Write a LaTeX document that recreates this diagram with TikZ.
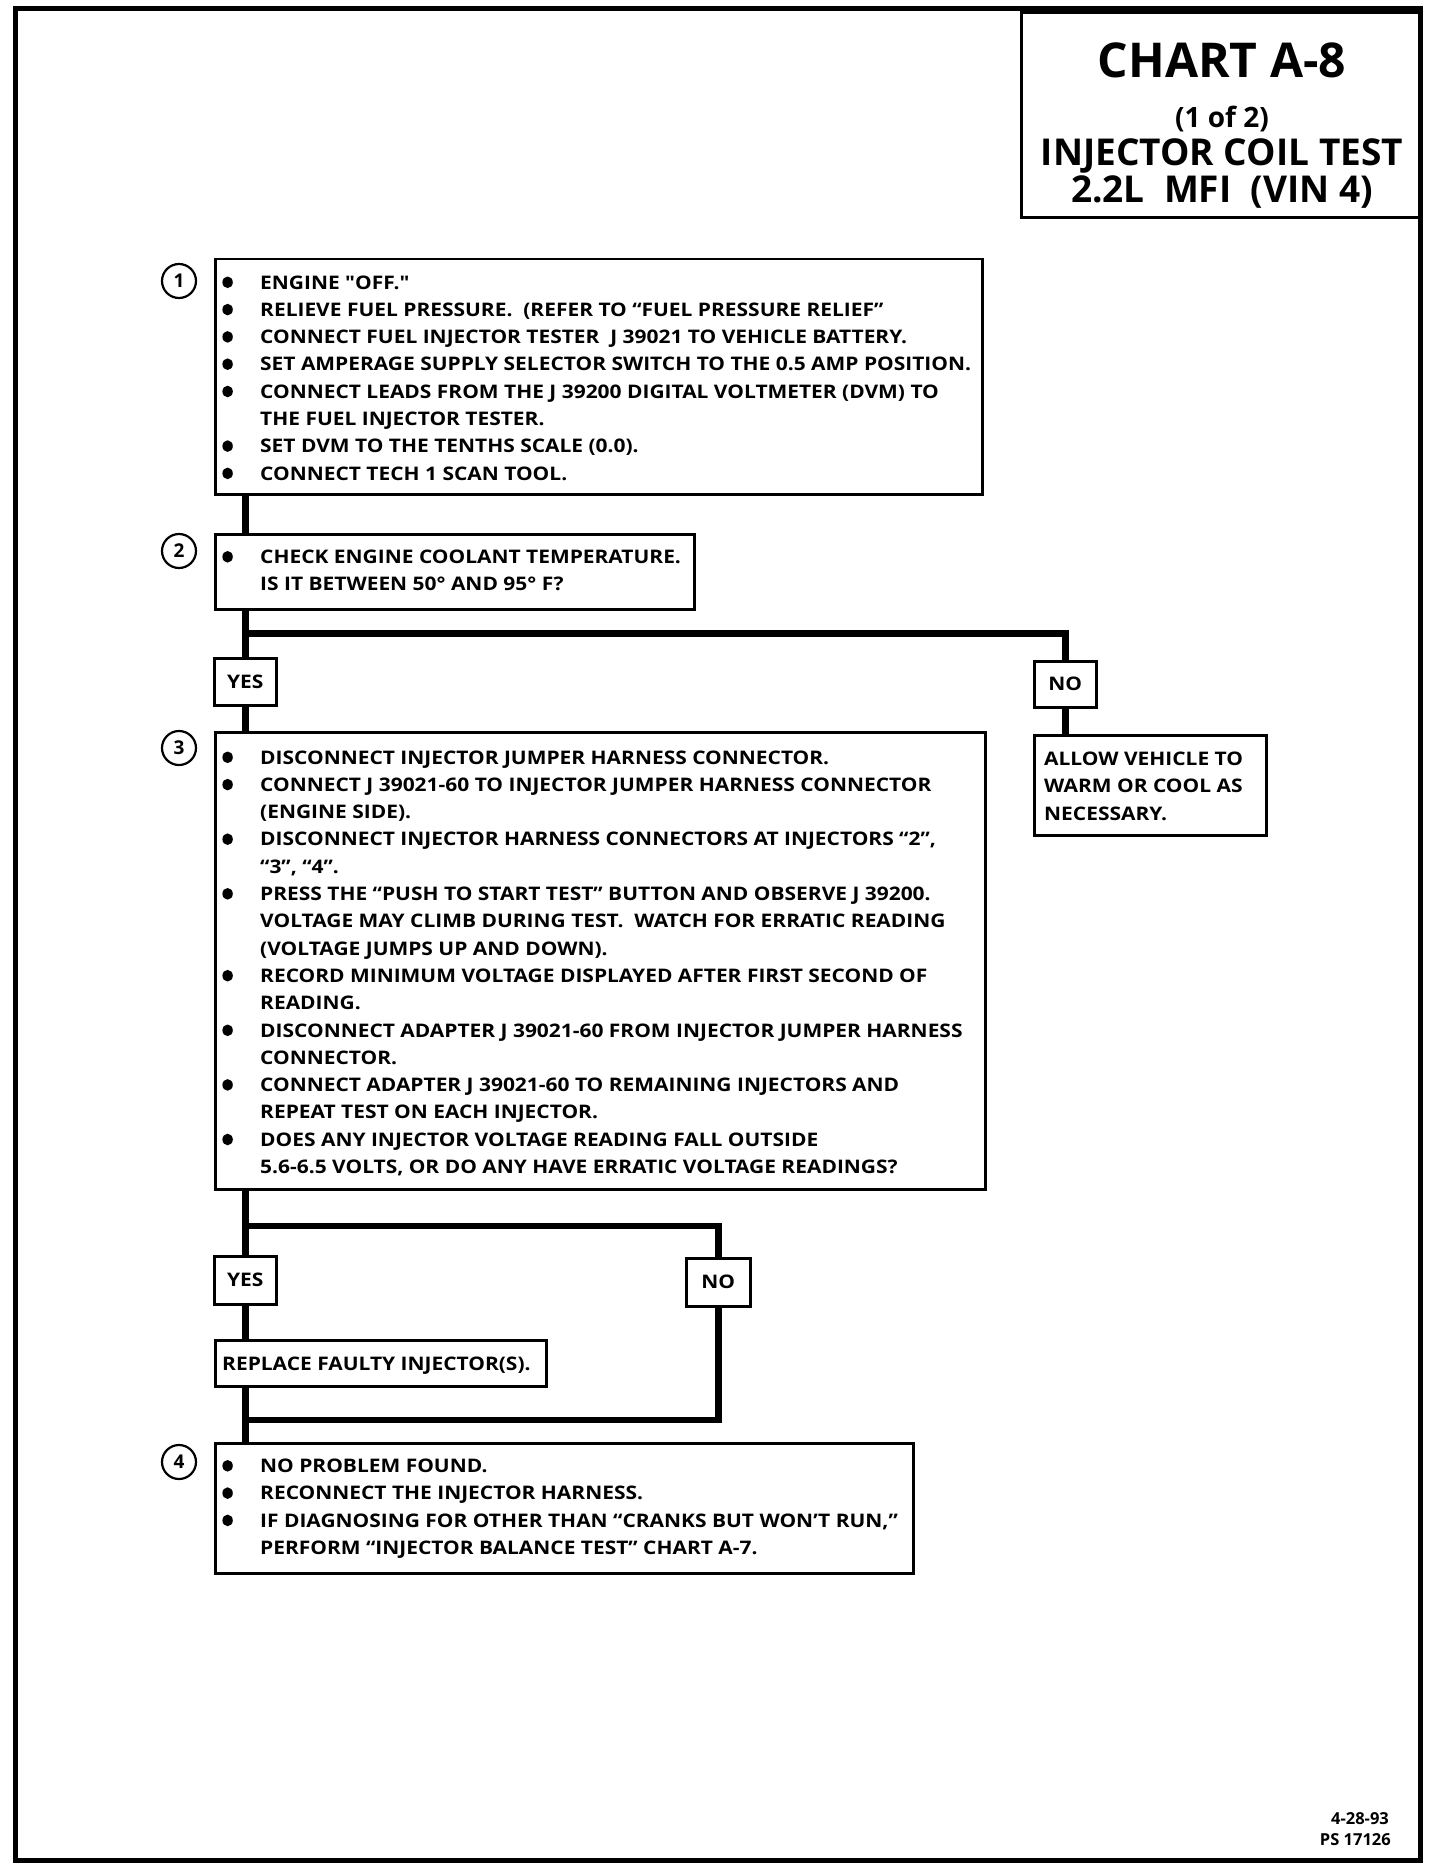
\documentclass[tikz,border=0pt]{standalone}
\usepackage{fontspec}
\setmainfont{Open Sans}
\newfontfamily\bodyf{Open Sans}[FakeStretch=1.12]
\newcommand\bdot{\tikz[baseline=-6.7pt]\fill (0pt,0pt) ellipse (5.2pt and 5.8pt);}
\newcommand\bul{\leavevmode\llap{\bdot\hspace{27.4pt}}}
\newcommand\tblock[1]{\parbox[t]{900pt}{\raggedright\bodyf\bfseries\fontsize{18.7}{27.3}\selectfont #1}}
\begin{document}
\begin{tikzpicture}[x=1pt,y=-1pt,
  box/.style={draw, line width=2.5pt, rectangle, inner sep=0pt, anchor=north west},
  yn/.style={draw, line width=2.5pt, rectangle, inner sep=0pt, anchor=north west, font=\bodyf\bfseries\fontsize{18.7}{18.7}\selectfont},
  conn/.style={line width=6.5pt},
  txt/.style={anchor=base west, inner sep=0pt},
  circ/.style={circle, draw, line width=2.2pt, minimum size=34pt, inner sep=0pt, font=\bfseries\fontsize{19}{19}\selectfont},
  ttl/.style={anchor=base, inner sep=0pt}]
\useasboundingbox (0,0) rectangle (1440,1870);
% frame and title box
\draw[line width=5pt] (15.5,9) rectangle (1420,1860);
\node[draw, line width=3pt, anchor=north west, minimum width=400pt, minimum height=205pt, inner sep=0pt] (tb) at (1020,11) {};
\node[ttl, font=\bfseries\fontsize{48}{48}\selectfont] (t1) at (1222,78) {CHART A-8};
\node[ttl, font=\bfseries\fontsize{28}{28}\selectfont] (t2) at (1222,128) {(1 of 2)};
\node[ttl, font=\bfseries\fontsize{37}{37}\selectfont] (t3) at (1222,166) {INJECTOR COIL TEST};
\node[ttl, font=\bfseries\fontsize{37}{37}\selectfont] (t4) at (1222,203) {2.2L\ \ MFI\ \ (VIN 4)};
% boxes
\node[box, minimum width=767pt, minimum height=235pt] (b1) at (214,258) {};
\node[box, minimum width=479pt, minimum height=75pt] (b2) at (214,533) {};
\node[yn, minimum width=62pt, minimum height=47pt] (yes1) at (213,657) {YES};
\node[yn, minimum width=62pt, minimum height=46pt] (no1) at (1033,660) {NO};
\node[box, minimum width=770pt, minimum height=457pt] (b3) at (214,731) {};
\node[box, minimum width=232pt, minimum height=100pt] (allow) at (1033,734) {};
\node[yn, minimum width=62pt, minimum height=48pt] (yes2) at (213,1255) {YES};
\node[yn, minimum width=64pt, minimum height=48pt] (no2) at (685,1257) {NO};
\node[box, minimum width=331pt, minimum height=46pt] (rep) at (214,1339) {};
\node[box, minimum width=698pt, minimum height=130pt] (b4) at (214,1442) {};
% step circles
\node[circ] (c1) at (179,281) {1};
\node[circ] (c2) at (179,551) {2};
\node[circ] (c3) at (179,748) {3};
\node[circ] (c4) at (179,1462) {4};
% texts
\node[txt] (x1) at (260,289) {\tblock{%
\bul ENGINE "OFF."\\
\bul RELIEVE FUEL PRESSURE.\ \ (REFER TO “FUEL PRESSURE RELIEF”\\
\bul CONNECT FUEL INJECTOR TESTER\ \ J 39021 TO VEHICLE BATTERY.\\
\bul SET AMPERAGE SUPPLY SELECTOR SWITCH TO THE 0.5 AMP POSITION.\\
\bul CONNECT LEADS FROM THE J 39200 DIGITAL VOLTMETER (DVM) TO\\
THE FUEL INJECTOR TESTER.\\
\bul SET DVM TO THE TENTHS SCALE (0.0).\\
\bul CONNECT TECH 1 SCAN TOOL.}};
\node[txt] (x2) at (260,563.5) {\tblock{%
\bul CHECK ENGINE COOLANT TEMPERATURE.\\
IS IT BETWEEN 50° AND 95° F?}};
\node[txt] (x3) at (260,764) {\tblock{%
\bul DISCONNECT INJECTOR JUMPER HARNESS CONNECTOR.\\
\bul CONNECT J 39021-60 TO INJECTOR JUMPER HARNESS CONNECTOR\\
(ENGINE SIDE).\\
\bul DISCONNECT INJECTOR HARNESS CONNECTORS AT INJECTORS “2”,\\
“3”, “4”.\\
\bul PRESS THE “PUSH TO START TEST” BUTTON AND OBSERVE J 39200.\\
VOLTAGE MAY CLIMB DURING TEST.\ \ WATCH FOR ERRATIC READING\\
(VOLTAGE JUMPS UP AND DOWN).\\
\bul RECORD MINIMUM VOLTAGE DISPLAYED AFTER FIRST SECOND OF\\
READING.\\
\bul DISCONNECT ADAPTER J 39021-60 FROM INJECTOR JUMPER HARNESS\\
CONNECTOR.\\
\bul CONNECT ADAPTER J 39021-60 TO REMAINING INJECTORS AND\\
REPEAT TEST ON EACH INJECTOR.\\
\bul DOES ANY INJECTOR VOLTAGE READING FALL OUTSIDE\\
5.6-6.5 VOLTS, OR DO ANY HAVE ERRATIC VOLTAGE READINGS?}};
\node[txt] (x4) at (1044,765.5) {\tblock{%
ALLOW VEHICLE TO\\
WARM OR COOL AS\\
NECESSARY.}};
\node[txt] (x5) at (222,1370) {\tblock{REPLACE FAULTY INJECTOR(S).}};
\node[txt] (x6) at (260,1472.5) {\tblock{%
\bul NO PROBLEM FOUND.\\
\bul RECONNECT THE INJECTOR HARNESS.\\
\bul IF DIAGNOSING FOR OTHER THAN “CRANKS BUT WON’T RUN,”\\
PERFORM “INJECTOR BALANCE TEST” CHART A-7.}};
% footer
\node[anchor=base east, inner sep=0pt, font=\bfseries\fontsize{16.5}{16.5}\selectfont] (f1) at (1389,1824) {4-28-93};
\node[anchor=base east, inner sep=0pt, font=\bfseries\fontsize{16.5}{16.5}\selectfont] (f2) at (1391,1845) {PS 17126};
% connectors
\coordinate (j1) at (244,633.5);
\coordinate (j2) at (244,1226);
\coordinate (j3) at (244,1420);
\draw[conn] (b1.south -| yes1) -- (b2.north -| yes1);
\draw[conn] (b2.south -| yes1) -- (yes1.north);
\draw[conn] (j1) -| (no1.north);
\draw[conn] (yes1.south) -- (b3.north -| yes1);
\draw[conn] (no1.south) -- (allow.north -| no1);
\draw[conn] (b3.south -| yes1) -- (yes2.north);
\draw[conn] (j2) -| (no2.north);
\draw[conn] (yes2.south) -- (rep.north -| yes2);
\draw[conn] (rep.south -| yes2) -- (b4.north -| yes2);
\draw[conn] (no2.south) |- (j3);
\end{tikzpicture}
\end{document}
